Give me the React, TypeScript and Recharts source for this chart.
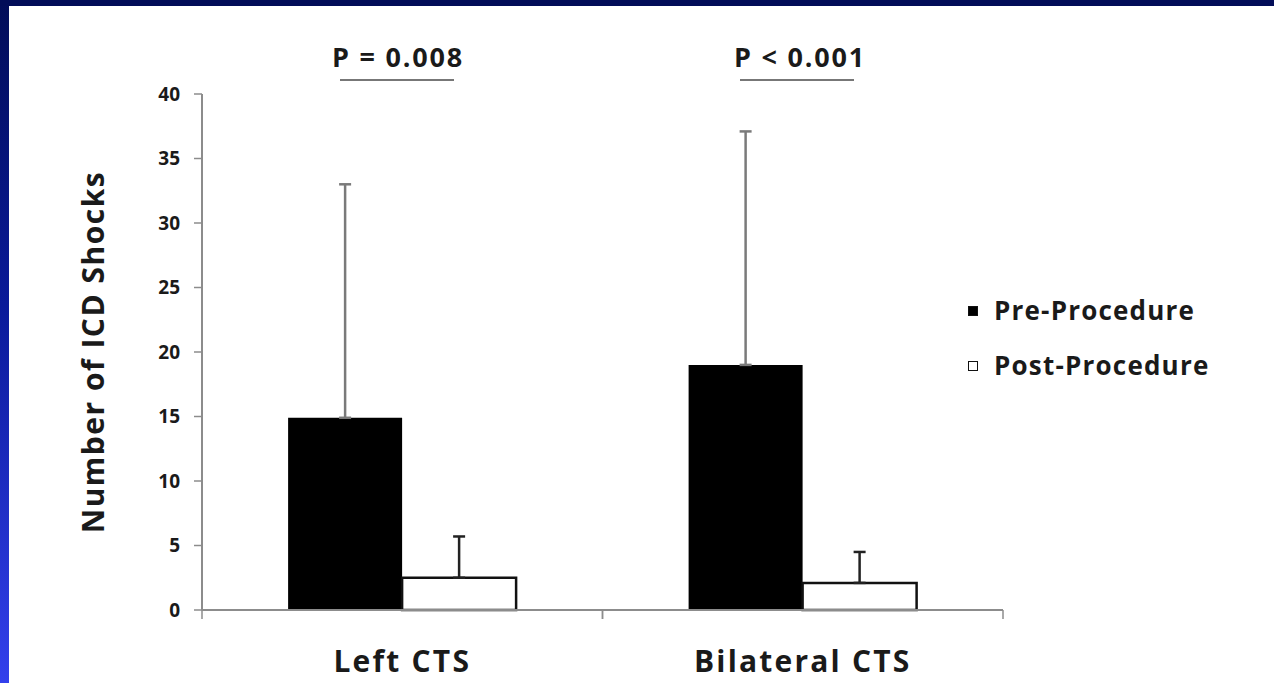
import { BarChart, Bar, XAxis, YAxis, ErrorBar, Legend, Label } from 'recharts';

const categories = ['Left CTS', 'Bilateral CTS'];
const preProcedure = [14.9, 19.0];
const postProcedure = [2.5, 2.1];
// one-sided (upper) error bars
const preUpperErr = [18.1, 18.1];
const postUpperErr = [3.2, 2.4];
const yTicks = [0, 5, 10, 15, 20, 25, 30, 35, 40];
const pValues = ['P = 0.008', 'P < 0.001'];

const data = categories.map((name, i) => ({
  name,
  pre: preProcedure[i],
  post: postProcedure[i],
  preErr: [0, preUpperErr[i]],
  postErr: [0, postUpperErr[i]],
}));

const FONT = '"Open Sans", "DejaVu Sans", sans-serif';
const AXIS = '#8c8c8c';
const TEXT = '#1a1a1a';
const X_TICK_SIZE = 6;
const X_TICK_MARGIN = 35;

const LegendBox = () => (
  <div style={{ fontFamily: FONT, fontWeight: 700, fontSize: 26, letterSpacing: 1.2, color: TEXT, lineHeight: '55px' }}>
    {[
      { label: 'Pre-Procedure', fill: '#000' },
      { label: 'Post-Procedure', fill: '#fff' },
    ].map((it) => (
      <div key={it.label} style={{ display: 'flex', alignItems: 'center' }}>
        <span style={{ width: 8, height: 8, background: it.fill, border: '1.5px solid #111', marginRight: 16 }} />
        <span>{it.label}</span>
      </div>
    ))}
  </div>
);

const YTitle = (props: any) => {
  const vb = props.viewBox;
  const cx = vb.x - 50;
  const cy = vb.y + vb.height / 2;
  return (
    <text x={cx} y={cy} transform={`rotate(-90, ${cx}, ${cy})`} textAnchor="middle" dominantBaseline="central"
      style={{ fontFamily: FONT, fontWeight: 700, fontSize: 30, letterSpacing: 1.5, fill: TEXT }}>
      Number of ICD Shocks
    </text>
  );
};

// category label plus small tick marks at the band edges
const CatTick = (props: any) => {
  const { x, y, payload } = props;
  const half = payload.offset ?? 0;
  const axisY = y - X_TICK_SIZE - X_TICK_MARGIN;
  return (
    <g>
      {half > 0 && (
        <>
          <line x1={x - half} x2={x - half} y1={axisY} y2={axisY + 9} stroke={AXIS} strokeWidth={1.5} />
          <line x1={x + half} x2={x + half} y1={axisY} y2={axisY + 9} stroke={AXIS} strokeWidth={1.5} />
        </>
      )}
      <text x={x} y={y} dy="0.71em" textAnchor="middle"
        style={{ fontFamily: FONT, fontWeight: 700, fontSize: 30, letterSpacing: 2.2, fill: TEXT }}>
        {payload.value}
      </text>
    </g>
  );
};

export default function App() {
  return (
    <div style={{ position: 'absolute', left: 0, top: 0, width: 1274, height: 683, overflow: 'hidden',
      background: 'linear-gradient(to bottom, #020d58 0%, #0a1a9a 45%, #3340ec 100%)' }}>
      <div style={{ position: 'absolute', left: 9, top: 6, right: 0, bottom: 0, background: '#fff' }} />
      <div style={{ position: 'absolute', left: 0, top: 0, width: 1274, height: 6, background: '#020d58' }} />
      <div style={{ position: 'absolute', left: 0, top: 0 }}>
        <BarChart width={1274} height={683} data={data} margin={{ top: 94, right: 271, bottom: 23, left: 142 }}
          barCategoryGap="21.5%" barGap={0}>
          <XAxis dataKey="name" height={50} axisLine={{ stroke: AXIS, strokeWidth: 2 }} tickLine={false}
            tickSize={X_TICK_SIZE} tickMargin={X_TICK_MARGIN} tick={<CatTick />} />
          <YAxis domain={[0, 40]} ticks={yTicks} width={60} interval={0}
            axisLine={{ stroke: AXIS, strokeWidth: 2 }} tickLine={{ stroke: AXIS, strokeWidth: 1.5 }} tickSize={8} tickMargin={14}
            tick={{ fontFamily: FONT, fontWeight: 700, fontSize: 19, fill: TEXT }}>
            <Label content={YTitle} />
          </YAxis>
          <Legend layout="vertical" align="center" verticalAlign="middle" content={<LegendBox />}
            wrapperStyle={{ left: 968, top: 283, width: 300 }} />
          <Bar dataKey="pre" name="Pre-Procedure" fill="#000" isAnimationActive={false}>
            <ErrorBar dataKey="preErr" direction="y" width={6} stroke="#7a7a7a" strokeWidth={2.5} />
          </Bar>
          <Bar dataKey="post" name="Post-Procedure" fill="#fff" stroke="#111" strokeWidth={2.5} isAnimationActive={false}>
            <ErrorBar dataKey="postErr" direction="y" width={6} stroke="#222" strokeWidth={2.5} />
          </Bar>
        </BarChart>
      </div>
      {pValues.map((p, i) => (
        <div key={p}>
          <div style={{ position: 'absolute', left: 398 + i * 402 - 90, top: 39, width: 180, textAlign: 'center',
            fontFamily: FONT, fontWeight: 700, fontSize: 27, letterSpacing: 1.8, color: TEXT, lineHeight: '36px' }}>
            {p}
          </div>
          <div style={{ position: 'absolute', left: 397 + i * 400 - 57, top: 79, width: 114, height: 2, background: '#777' }} />
        </div>
      ))}
    </div>
  );
}
